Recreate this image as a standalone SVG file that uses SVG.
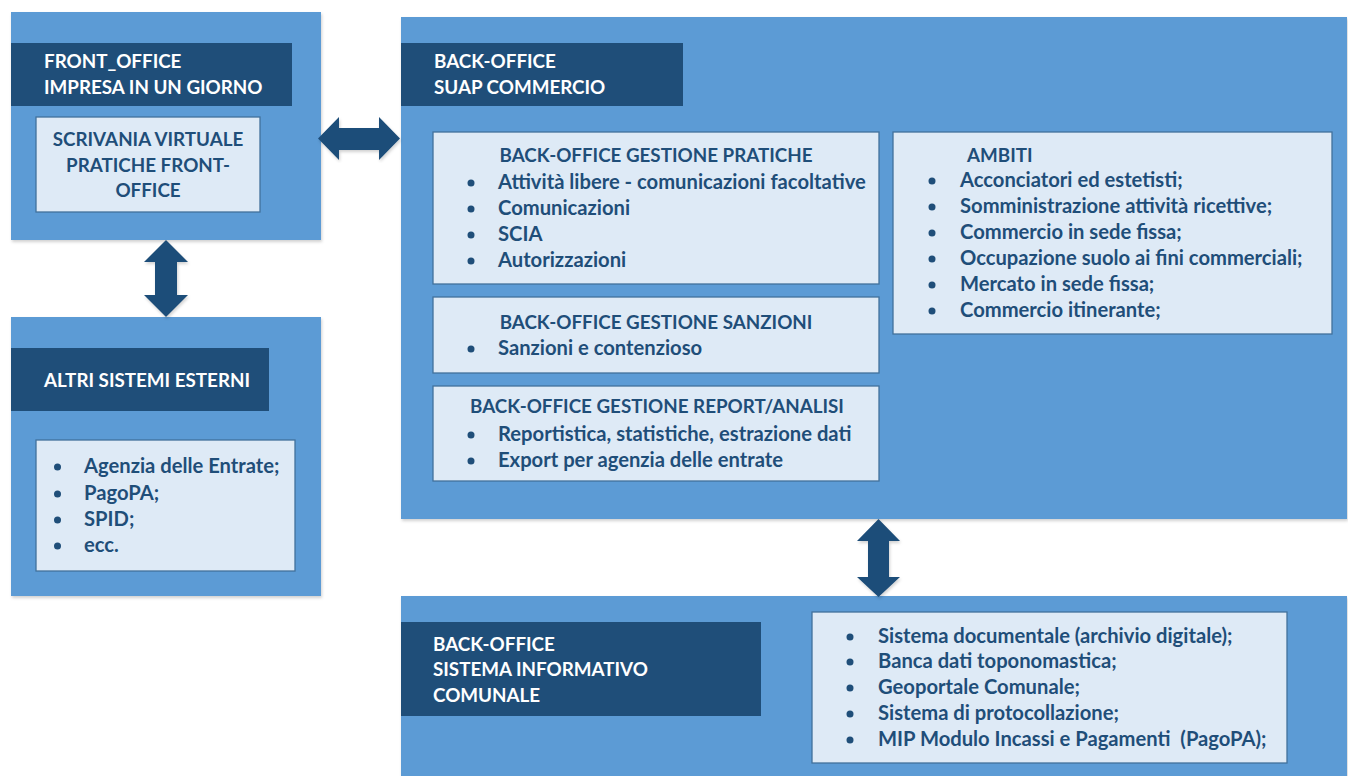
<svg xmlns="http://www.w3.org/2000/svg" width="1348" height="776" viewBox="0 0 1348 776">
<defs>
<filter id="sh" x="-5%" y="-5%" width="110%" height="110%">
<feDropShadow dx="1" dy="2" stdDeviation="1.5" flood-color="#000" flood-opacity="0.18"/>
</filter>
<style>
.outer{fill:#5B9BD5;filter:url(#sh)}
.hdr{fill:#1F4E79}
.inner{fill:#DEEAF6;stroke:#41719C;stroke-width:1.3}
.ht{fill:#FFFFFF;font-family:Lato,"Liberation Sans",sans-serif;font-weight:bold;font-size:18.8px}
.t{fill:#1F4E79;font-family:Lato,"Liberation Sans",sans-serif;font-weight:bold;font-size:18.8px}
.l{fill:#1F4E79;font-family:Lato,"Liberation Sans",sans-serif;font-weight:bold;font-size:20.2px}
.c{text-anchor:middle}
.b{fill:#1F4E79}
.arr{fill:#1F4E79;filter:url(#sh)}
</style>
</defs>
<rect width="1348" height="776" fill="#FFFFFF"/>

<g id="front-office">
<rect class="outer" x="11" y="12" width="310" height="228"/>
<rect class="hdr" x="11" y="43" width="281" height="63"/>
<text class="ht" x="44" y="68">FRONT_OFFICE</text>
<text class="ht" x="44" y="94">IMPRESA IN UN GIORNO</text>
<rect class="inner" x="36" y="117" width="224" height="95"/>
<text class="t c" x="148" y="146">SCRIVANIA VIRTUALE</text>
<text class="t c" x="148" y="172">PRATICHE FRONT-</text>
<text class="t c" x="148" y="197">OFFICE</text>
</g>

<g id="altri-sistemi">
<rect class="outer" x="11" y="317" width="310" height="279"/>
<rect class="hdr" x="11" y="348" width="258" height="63"/>
<text class="ht" x="44" y="387">ALTRI SISTEMI ESTERNI</text>
<rect class="inner" x="36" y="440" width="259" height="131"/>
<circle class="b" cx="57.5" cy="467" r="3.5"/>
<circle class="b" cx="57.5" cy="494" r="3.5"/>
<circle class="b" cx="57.5" cy="520" r="3.5"/>
<circle class="b" cx="57.5" cy="546" r="3.5"/>
<text class="l" x="84" y="473">Agenzia delle Entrate;</text>
<text class="l" x="84" y="500">PagoPA;</text>
<text class="l" x="84" y="526">SPID;</text>
<text class="l" x="84" y="552">ecc.</text>
</g>

<g id="back-office-suap">
<rect class="outer" x="401" y="17" width="946" height="502"/>
<rect class="hdr" x="401" y="43" width="282" height="63"/>
<text class="ht" x="434" y="68">BACK-OFFICE</text>
<text class="ht" x="434" y="94">SUAP COMMERCIO</text>
</g>

<g id="gestione-pratiche">
<rect class="inner" x="433" y="132" width="446" height="152"/>
<text class="t c" x="656" y="162">BACK-OFFICE GESTIONE PRATICHE</text>
<circle class="b" cx="471" cy="183" r="3.5"/>
<circle class="b" cx="471" cy="209" r="3.5"/>
<circle class="b" cx="471" cy="235" r="3.5"/>
<circle class="b" cx="471" cy="261" r="3.5"/>
<text class="l" x="498" y="189">Attività libere - comunicazioni facoltative</text>
<text class="l" x="498" y="215">Comunicazioni</text>
<text class="l" x="498" y="241">SCIA</text>
<text class="l" x="498" y="267">Autorizzazioni</text>
</g>

<g id="gestione-sanzioni">
<rect class="inner" x="433" y="297" width="446" height="76"/>
<text class="t c" x="656" y="329">BACK-OFFICE GESTIONE SANZIONI</text>
<circle class="b" cx="471" cy="349" r="3.5"/>
<text class="l" x="498" y="355">Sanzioni e contenzioso</text>
</g>

<g id="gestione-report">
<rect class="inner" x="433" y="386" width="446" height="95"/>
<text class="t c" x="657" y="413">BACK-OFFICE GESTIONE REPORT/ANALISI</text>
<circle class="b" cx="471" cy="435" r="3.5"/>
<circle class="b" cx="471" cy="461" r="3.5"/>
<text class="l" x="498" y="441">Reportistica, statistiche, estrazione dati</text>
<text class="l" x="498" y="467">Export per agenzia delle entrate</text>
</g>

<g id="ambiti">
<rect class="inner" x="893" y="132" width="439" height="202"/>
<text class="t" x="967" y="162">AMBITI</text>
<circle class="b" cx="932" cy="181" r="3.5"/>
<circle class="b" cx="932" cy="207" r="3.5"/>
<circle class="b" cx="932" cy="233" r="3.5"/>
<circle class="b" cx="932" cy="259" r="3.5"/>
<circle class="b" cx="932" cy="285" r="3.5"/>
<circle class="b" cx="932" cy="311" r="3.5"/>
<text class="l" x="960" y="187">Acconciatori ed estetisti;</text>
<text class="l" x="960" y="213">Somministrazione attività ricettive;</text>
<text class="l" x="960" y="239">Commercio in sede fissa;</text>
<text class="l" x="960" y="265">Occupazione suolo ai fini commerciali;</text>
<text class="l" x="960" y="291">Mercato in sede fissa;</text>
<text class="l" x="960" y="317">Commercio itinerante;</text>
</g>

<g id="sistema-informativo">
<rect class="outer" x="401" y="596" width="946" height="185"/>
<rect class="hdr" x="401" y="622" width="360" height="94"/>
<text class="ht" x="433" y="651">BACK-OFFICE</text>
<text class="ht" x="433" y="676">SISTEMA INFORMATIVO</text>
<text class="ht" x="433" y="702">COMUNALE</text>
<rect class="inner" x="812" y="612" width="475" height="151"/>
<circle class="b" cx="850" cy="637" r="3.5"/>
<circle class="b" cx="850" cy="662" r="3.5"/>
<circle class="b" cx="850" cy="688" r="3.5"/>
<circle class="b" cx="850" cy="714" r="3.5"/>
<circle class="b" cx="850" cy="740" r="3.5"/>
<text class="l" x="878" y="643">Sistema documentale (archivio digitale);</text>
<text class="l" x="878" y="668">Banca dati toponomastica;</text>
<text class="l" x="878" y="694">Geoportale Comunale;</text>
<text class="l" x="878" y="720">Sistema di protocollazione;</text>
<text class="l" x="878" y="746" xml:space="preserve">MIP Modulo Incassi e Pagamenti  (PagoPA);</text>
</g>

<g id="connectors">
<polygon class="arr" points="166,240 188,262 177,262 177,295 188,295 166,317 144,295 155,295 155,262 144,262"/>
<polygon class="arr" points="318,138.5 339,117 339,128 379,128 379,117 400,138.5 379,160 379,150 339,150 339,160"/>
<polygon class="arr" points="878.5,519 900,541 889,541 889,577 900,577 878.5,597 857,577 868,577 868,541 857,541"/>
</g>
</svg>
